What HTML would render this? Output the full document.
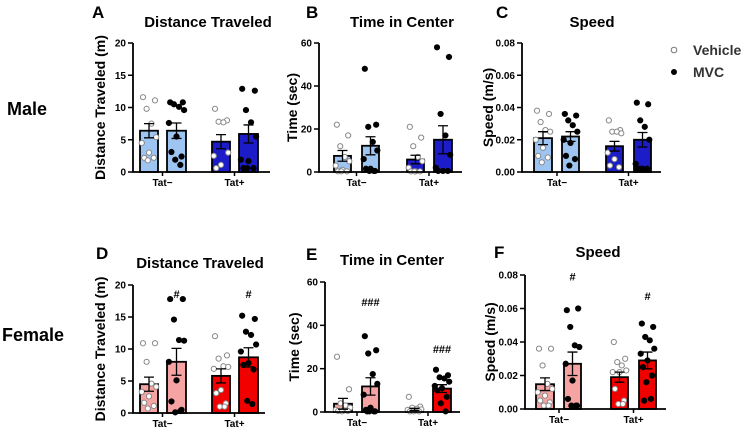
<!DOCTYPE html>
<html><head><meta charset="utf-8"><style>
body{margin:0;background:#fff;}
svg{display:block;font-family:"Liberation Sans",Arial,sans-serif;}
</style></head><body>
<svg id="fig" width="742" height="432" viewBox="0 0 742 432" xmlns="http://www.w3.org/2000/svg">
<text x="7" y="115" font-size="18" font-weight="bold">Male</text>
<text x="2" y="341" font-size="18" font-weight="bold">Female</text>
<g>
<circle cx="674" cy="50" r="2.8" fill="#fff" stroke="#777" stroke-width="1"/>
<text x="693" y="55" font-size="14" font-weight="bold" fill="#333">Vehicle</text>
<circle cx="674" cy="72" r="3" fill="#000"/>
<text x="693" y="77" font-size="14" font-weight="bold" fill="#333">MVC</text>
</g>
</svg>
<script>
const categories = ["Tat−","Tat+"];
// A
const aMeans=[6.4,6.4,4.7,5.9]; const aSem=[1.1,1.2,1.1,1.4];
const aPts=[[11.6,11.1,9.8,7.5,5.4,4.5,3.0,2.2,2.2,1.8],[10.8,10.8,10.5,10.1,9.6,7.6,5.5,3.1,2.4,1.9,1.1],[9.8,8,7.8,7.7,3,2.5,1.1,0.6],[12.9,12.6,9.6,7.7,5.5,1.9,1.7,0.6,0.6,0.6]];
const aTicks=[0,5,10,15,20];
// B
const bMeans=[7.5,12.2,5.8,15]; const bSem=[2.5,4.2,2,6.5];
const bPts=[[22,17,12,7,5,3,1,0.3,0.3,0.3],[48,22,21,14,10,6,1.5,1.5,0.5,0.5,0.5],[21,16,12,7,5,2,0.3,0.3,0.3,0.3],[58,53.5,27,17,8,2,0.5,0.5,0.5]];
const bTicks=[0,20,40,60];
// C
const cMeans=[0.021,0.022,0.016,0.020]; const cSem=[0.004,0.003,0.003,0.0045];
const cPts=[[.038,.036,.031,.026,.025,.020,.015,.010,.009,.006],[.036,.035,.032,.029,.025,.020,.018,.010,.008,.004],[.032,.026,.025,.025,.024,.012,.008,.004,.003],[.043,.042,.032,.028,.020,.005,.002,.002,.002,.002]];
const cTicks=[0,0.02,0.04,0.06,0.08];
// D
const dMeans=[4.5,8,5.8,8.7]; const dSem=[1.1,2.1,1.1,1.5];
const dPts=[[10.9,10.9,8,4.6,4.1,3.3,2.6,1.6,1.1,0.7],[17.8,17.8,14.6,11.4,11.3,8,5.1,1.8,0.5,0.1,0.3],[12,9,8.5,7.3,7.2,6.9,3.6,3.1,1.5,1,1],[15.2,14.7,12.7,12.2,10.7,9.6,7.8,7.5,6.8,1.9,1.4]];
const dHash=[18.6,18.6];
// E
const eMeans=[3.8,11.8,1.2,10.8]; const eSem=[2.5,4,0.5,1.8];
const ePts=[[25.5,10.5,4,3,2,1,0.5,0.5,0.5,0.3],[35,28.5,27,17.5,13,8,2,1,0.3,0.3,0.3,0.3],[7,2.5,2,1.5,1.2,1,0.5,0.3,0.3,0.3],[19.5,17,16,15.5,14,12,11,10,7,4,0.3]];
const eHash=[50.8,29];
// F
const fMeans=[0.0148,0.027,0.019,0.029]; const fSem=[0.0038,0.007,0.003,0.005];
const fPts=[[.036,.036,.026,.015,.012,.010,.008,.005,.004,.002,.002],[.059,.06,.049,.038,.037,.027,.017,.006,.002,.002,.002],[.040,.030,.028,.026,.023,.022,.022,.012,.005,.003,.003],[.051,.049,.043,.041,.036,.033,.029,.025,.020,.016,.006,.005]];
const fHash=[0.079,0.0675];

const NS="http://www.w3.org/2000/svg";
const svg=document.getElementById('fig');
function mk(tag,attrs,parent,text){const e=document.createElementNS(NS,tag);for(const k in attrs)e.setAttribute(k,attrs[k]);if(text!==undefined)e.textContent=text;(parent||svg).appendChild(e);return e;}
const blue=["#9ec5f2","#9ec5f2","#1c1cc8","#1c1cc8"];
const red=["#f5a3a3","#f5a3a3","#f20000","#f20000"];
const offs=[-5,5,-2,2,6,-6,0,-4,4,-1,3,-3];

function panel(id,L){
  const g=mk('g',{});
  
  
  const y=v=>L.y0-(v/L.max)*(L.y0-L.yTop);
  const lt=mk('text',{x:L.lx,y:L.ly,'font-size':17,'font-weight':'bold'},g,id.toUpperCase());
  
  
  const t=mk('text',{x:L.tx,y:L.ty,'font-size':15,'font-weight':'bold','text-anchor':'middle'},g,L.title);
  
  
  const yl=mk('text',{x:0,y:0,'font-size':14,'font-weight':'bold','text-anchor':'middle',transform:`translate(${L.ylx},${(L.yTop+L.y0)/2}) rotate(-90)`},g,L.ylabel);
  
  
  L.bars.forEach((b,i)=>{
    const m=L.means[i],top=y(m);
    const r=mk('rect',{x:b[0],y:top,width:b[1]-b[0],height:L.y0-top,fill:L.colors[i],stroke:'#000','stroke-width':1.8},g);
    
    
    const cx=(b[0]+b[1])/2;
    L.pts[i].forEach((v,j)=>{
      const c=mk('circle',{cx:cx+offs[j%offs.length]*(b[1]-b[0])/15,cy:y(v),r:2.6,fill:i%2?'#000':'#fff',stroke:i%2?'#000':'#888','stroke-width':1},g);
      
      
    });
    const s=L.sem[i];
    const e=mk('path',{d:`M${cx},${y(m-s)}V${y(m+s)}M${cx-5},${y(m+s)}H${cx+5}M${cx-5},${y(m-s)}H${cx+5}`,stroke:'#000','stroke-width':1.3,fill:'none'},g);
    
    
  });
  if(L.hash){L.hash.forEach((v,k)=>{
    const b=L.bars[k*2+1];
    const h=mk('text',{x:(b[0]+b[1])/2,y:y(v)+4,'font-size':11,'font-weight':'bold','text-anchor':'middle'},g,L.hashTxt[k]);
    
    
  });}
  const ax=mk('path',{d:`M${L.ax},${L.yTop}V${L.y0}H${L.axEnd}`,stroke:'#000','stroke-width':1.8,fill:'none'},g);
  
  
  L.ticks.forEach(v=>{
    mk('line',{x1:L.ax-5,x2:L.ax,y1:y(v),y2:y(v),stroke:'#000','stroke-width':1.5},g);
    const tl=mk('text',{x:L.ax-7,y:y(v)+3.5,'font-size':10,'font-weight':'bold','text-anchor':'end'},g,L.fmt(v));
    
    
  });
  categories.forEach((c,k)=>{
    const cx=(L.bars[k*2][1]+L.bars[k*2+1][0])/2;
    mk('line',{x1:cx,x2:cx,y1:L.y0,y2:L.y0+4,stroke:'#000','stroke-width':1.5},g);
    const xl=mk('text',{x:cx,y:L.y0+14,'font-size':10,'font-weight':'bold','text-anchor':'middle'},g,c);
    
    
  });
}
const f0=v=>String(v), f2=v=>v.toFixed(2);
panel('a',{lx:92,ly:18,tx:208,ty:27,title:'Distance Traveled',ylabel:'Distance Traveled (m)',ylx:105,ax:133,axEnd:270,yTop:43,y0:172,max:20,ticks:aTicks,fmt:f0,bars:[[140,158],[167,186],[212,230],[239,258]],colors:blue,means:aMeans,sem:aSem,pts:aPts});
panel('b',{lx:306,ly:18,tx:402,ty:27,title:'Time in Center',ylabel:'Time (sec)',ylx:297,ax:319,axEnd:462,yTop:43,y0:172,max:60,ticks:bTicks,fmt:f0,bars:[[334,351],[362,379],[407,424],[434,452]],colors:blue,means:bMeans,sem:bSem,pts:bPts});
panel('c',{lx:496,ly:18,tx:592,ty:27,title:'Speed',ylabel:'Speed (m/s)',ylx:493,ax:522,axEnd:661,yTop:43,y0:172,max:0.08,ticks:cTicks,fmt:f2,bars:[[534,552],[562,579],[606,623],[634,651]],colors:blue,means:cMeans,sem:cSem,pts:cPts});
panel('d',{lx:96,ly:259,tx:200,ty:268,title:'Distance Traveled',ylabel:'Distance Traveled (m)',ylx:105,ax:133,axEnd:265,yTop:285,y0:413,max:20,ticks:aTicks,fmt:f0,bars:[[140,158],[167,186],[212,230],[239,258]],colors:red,means:dMeans,sem:dSem,pts:dPts,hash:dHash,hashTxt:['#','#']});
panel('e',{lx:306,ly:260,tx:392,ty:265,title:'Time in Center',ylabel:'Time (sec)',ylx:299,ax:325,axEnd:460,yTop:282,y0:412,max:60,ticks:bTicks,fmt:f0,bars:[[334,352],[362,379],[406,423],[433,451]],colors:red,means:eMeans,sem:eSem,pts:ePts,hash:eHash,hashTxt:['###','###']});
panel('f',{lx:494,ly:258,tx:598,ty:257,title:'Speed',ylabel:'Speed (m/s)',ylx:495,ax:525,axEnd:666,yTop:275,y0:409,max:0.08,ticks:cTicks,fmt:f2,bars:[[536,554],[564,581],[611,628],[639,656]],colors:red,means:fMeans,sem:fSem,pts:fPts,hash:fHash,hashTxt:['#','#']});
</script>
</body></html>
